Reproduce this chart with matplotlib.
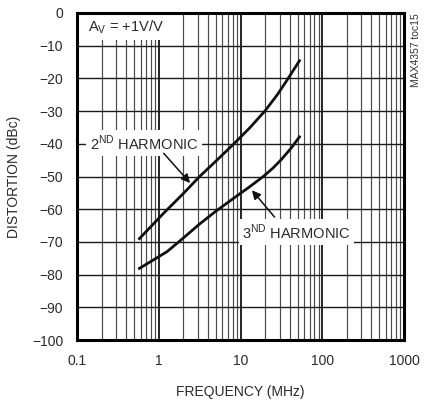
import matplotlib.pyplot as plt
from matplotlib.ticker import FixedLocator, NullFormatter

plt.rcParams['font.family'] = ['Liberation Sans', 'DejaVu Sans']

# data
freq_2nd = [0.58, 1.15, 2.0, 3.16, 5.0, 8.3, 13, 20, 28, 36.5, 52.6]
dist_2nd = [-69, -61.2, -55.2, -50, -45.3, -40, -35.1, -29.9, -25.1, -20.8, -14.6]
freq_3rd = [0.58, 1.26, 2.0, 3.17, 5.0, 8.3, 13, 19, 25, 31.6, 42, 52.6]
dist_3rd = [-78.1, -73.0, -68.8, -64.5, -60.6, -56.6, -53.1, -50, -47.4, -44.8, -41.2, -37.9]
y_ticks = [0, -10, -20, -30, -40, -50, -60, -70, -80, -90, -100]
x_ticks = [0.1, 1, 10, 100, 1000]
x_labels = ['0.1', '1', '10', '100', '1000']

fig = plt.figure(figsize=(4.34, 4.03), dpi=100)
ax = fig.add_axes([77 / 434, 63 / 403, 327 / 434, 327 / 403])

ax.set_xscale('log')
ax.set_xlim(0.1, 1000)
ax.set_ylim(-100, 0)

# grid: decades black, minors grey
minors = [m * d for d in [0.1, 1, 10, 100] for m in range(2, 10)]
for x in minors:
    ax.axvline(x, color='#4a4a4a', lw=0.85, zorder=1)
for x in x_ticks:
    ax.axvline(x, color='black', lw=1.2, zorder=1)
for y in y_ticks:
    ax.axhline(y, color='#1a1a1a', lw=1.0, zorder=1)

ax.plot(freq_2nd, dist_2nd, color='#111111', lw=2.0, zorder=3)
ax.plot(freq_3rd, dist_3rd, color='#111111', lw=2.0, zorder=3)

ax.xaxis.set_major_locator(FixedLocator(x_ticks))
ax.set_xticklabels(x_labels)
ax.xaxis.set_minor_formatter(NullFormatter())
ax.set_yticks(y_ticks)
ax.tick_params(which='both', length=0, labelsize=10, pad=10, colors='#2a2a2a')

for s in ax.spines.values():
    s.set_linewidth(2.2)
    s.set_zorder(5)

ax.set_xlabel('FREQUENCY (MHz)', fontsize=10, color='#2a2a2a', labelpad=12)
ax.set_ylabel('DISTORTION (dBc)', fontsize=10, color='#2a2a2a', labelpad=8)

box = dict(facecolor='white', edgecolor='none', pad=2.5)
ax.text(0.137, -4.4, r'A$_\mathregular{V}$ = +1V/V', fontsize=10.5, color='#2a2a2a',
        va='center', ha='left', bbox=box, zorder=4)
ax.text(0.144, -39.8, r'2$^\mathregular{ND}$ HARMONIC', fontsize=10.5, color='#2a2a2a',
        va='center', ha='left', bbox=box, zorder=4)
ax.text(10.5, -67, r'3$^\mathregular{ND}$ HARMONIC', fontsize=10.5, color='#2a2a2a',
        va='center', ha='left', bbox=box, zorder=4)

arrow = dict(arrowstyle='-|>', color='#111111', lw=1.1, mutation_scale=13, shrinkA=0, shrinkB=0)
ax.annotate('', xy=(2.42, -52), xytext=(1.15, -42.9), arrowprops=arrow, zorder=4)
ax.annotate('', xy=(13.8, -54.2), xytext=(26.1, -62.4), arrowprops=arrow, zorder=4)

fig.text(416 / 434, 1 - 13 / 403, 'MAX4357 toc15', rotation=90, fontsize=7.5, color='#333333',
         va='top', ha='center')

fig.savefig('out.png', dpi=100)
